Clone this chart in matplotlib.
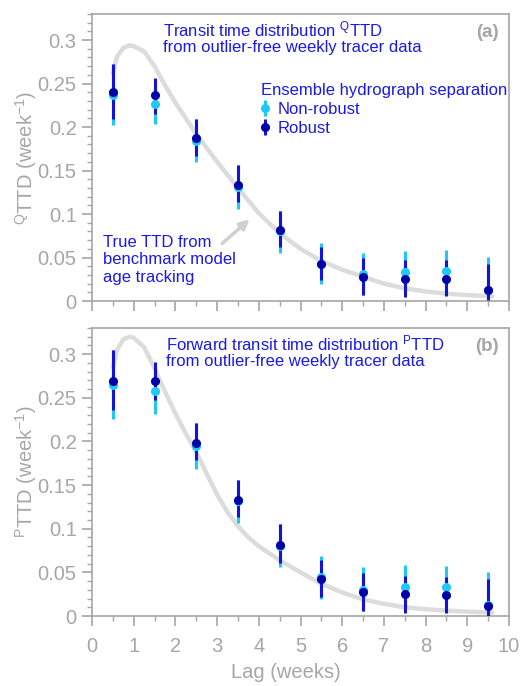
import numpy as np
import matplotlib
matplotlib.use("Agg")
import matplotlib.pyplot as plt
from matplotlib.ticker import MultipleLocator

plt.rcParams['font.family'] = ['Liberation Sans', 'DejaVu Sans']
plt.rcParams['mathtext.fontset'] = 'custom'
plt.rcParams['mathtext.rm'] = 'Liberation Sans'
plt.rcParams['mathtext.it'] = 'Liberation Sans:italic'

# ---- data ----
lag = [0.5, 1.5, 2.5, 3.5, 4.5, 5.5, 6.5, 7.5, 8.5, 9.5]

# panel (a): backward TTD
q_nonrob = [0.237, 0.227, 0.1845, 0.131, 0.0806, 0.043, 0.031, 0.0336, 0.0344, 0.013]
q_nonrob_lo = [0.202, 0.204, 0.160, 0.106, 0.055, 0.019, 0.007, 0.009, 0.009, 0.0]
q_nonrob_hi = [0.272, 0.250, 0.209, 0.156, 0.1035, 0.067, 0.055, 0.058, 0.059, 0.051]
q_rob = [0.240, 0.237, 0.1876, 0.133, 0.0814, 0.0424, 0.0279, 0.025, 0.0256, 0.0126]
q_rob_lo = [0.209, 0.215, 0.167, 0.114, 0.062, 0.024, 0.007, 0.005, 0.006, 0.001]
q_rob_hi = [0.272, 0.256, 0.209, 0.156, 0.104, 0.062, 0.049, 0.047, 0.047, 0.042]

q_true_x = [0.5, 0.6, 0.75, 0.9, 1.0, 1.25, 1.5, 1.75, 2.0, 2.25, 2.5, 2.75, 3.0,
            3.5, 4.0, 4.5, 5.0, 5.5, 6.0, 6.5, 7.0, 7.5, 8.0, 8.5, 9.0, 9.5, 9.6]
q_true = [0.262, 0.281, 0.291, 0.294, 0.293, 0.287, 0.270, 0.248, 0.228, 0.210,
          0.192, 0.176, 0.160, 0.130, 0.101, 0.078, 0.060, 0.046, 0.036, 0.028,
          0.020, 0.0145, 0.011, 0.0085, 0.0068, 0.0056, 0.0055]

# panel (b): forward TTD
p_nonrob = [0.265, 0.258, 0.195, 0.1316, 0.080, 0.0445, 0.030, 0.0338, 0.033, 0.0127]
p_nonrob_lo = [0.2256, 0.231, 0.169, 0.1066, 0.056, 0.0196, 0.006, 0.010, 0.010, 0.0]
p_nonrob_hi = [0.305, 0.285, 0.221, 0.156, 0.105, 0.069, 0.056, 0.058, 0.057, 0.050]
p_rob = [0.2697, 0.269, 0.1987, 0.1327, 0.081, 0.0426, 0.028, 0.0253, 0.0245, 0.012]
p_rob_lo = [0.236, 0.248, 0.179, 0.114, 0.061, 0.0215, 0.006, 0.004, 0.004, 0.0]
p_rob_hi = [0.305, 0.291, 0.221, 0.156, 0.105, 0.064, 0.049, 0.046, 0.045, 0.0426]

p_true_x = [0.5, 0.6, 0.75, 0.9, 1.0, 1.25, 1.5, 1.75, 2.0, 2.25, 2.5, 2.75, 3.0,
            3.25, 3.5, 3.75, 4.0, 4.5, 5.0, 5.5, 6.0, 6.5, 7.0, 7.5, 8.0, 8.5, 9.0, 9.5, 9.6]
p_true = [0.285, 0.305, 0.317, 0.320, 0.319, 0.308, 0.284, 0.257, 0.232, 0.209,
          0.188, 0.163, 0.139, 0.119, 0.103, 0.090, 0.080, 0.064, 0.050, 0.037, 0.027,
          0.019, 0.014, 0.010, 0.0078, 0.0062, 0.005, 0.0042, 0.004]

GREY = '#a6a6a6'
BLUE_TXT = '#1a1ae6'
CYAN = '#20c8f4'
DARK = '#0000a8'
DARK_BAR = '#1414d8'
CURVE = '#dcdcdc'


def draw_panel(ax, true_x, true_y, nr, nr_lo, nr_hi, rb, rb_lo, rb_hi):
    ax.plot(true_x, true_y, color=CURVE, lw=3.2, solid_capstyle='round', zorder=1)
    nr = np.array(nr); rb = np.array(rb)
    e1 = ax.errorbar(lag, nr, yerr=[nr - np.array(nr_lo), np.array(nr_hi) - nr],
                     fmt='o', ms=5.5, color=CYAN, ecolor=CYAN, elinewidth=2.2,
                     capsize=0, label='Non-robust')
    e2 = ax.errorbar(lag, rb, yerr=[rb - np.array(rb_lo), np.array(rb_hi) - rb],
                     fmt='o', ms=5.5, color=DARK, mec=DARK, ecolor=DARK_BAR,
                     elinewidth=2.2, capsize=0, label='Robust')
    e1.lines[0].set_zorder(4)
    e2.lines[0].set_zorder(5)
    for c in e1.lines[2]:
        c.set_zorder(2)
    for c in e2.lines[2]:
        c.set_zorder(3)

    ax.set_xlim(0, 10)
    ax.set_ylim(0, 0.33)
    ax.xaxis.set_major_locator(MultipleLocator(1))
    ax.xaxis.set_minor_locator(MultipleLocator(0.5))
    ax.yaxis.set_major_locator(MultipleLocator(0.05))
    ax.yaxis.set_minor_locator(MultipleLocator(0.01))
    ax.yaxis.set_major_formatter(plt.FuncFormatter(lambda v, p: ('%g' % round(v, 2))))
    ax.tick_params(which='major', direction='out', length=7, width=1.2, color=GREY,
                   labelcolor=GREY, labelsize=14.5, pad=4)
    ax.tick_params(axis='x', which='major', pad=8)
    ax.tick_params(which='minor', direction='out', length=3.5, width=1.0, color=GREY)
    for s in ax.spines.values():
        s.set_color(GREY)
        s.set_linewidth(1.2)
    return e1, e2


fig = plt.figure(figsize=(5.21, 6.86), dpi=100)
ax1 = fig.add_axes([0.1766, 0.5612, 0.8004, 0.4184])
ax2 = fig.add_axes([0.1766, 0.1020, 0.8004, 0.4198])

h1, h2 = draw_panel(ax1, q_true_x, q_true, q_nonrob, q_nonrob_lo, q_nonrob_hi,
                    q_rob, q_rob_lo, q_rob_hi)
draw_panel(ax2, p_true_x, p_true, p_nonrob, p_nonrob_lo, p_nonrob_hi,
           p_rob, p_rob_lo, p_rob_hi)

ax1.tick_params(axis='x', labelbottom=False)
ax1.set_ylabel(r'$^{\mathrm{Q}}$TTD (week$^{\mathrm{-1}}$)', color=GREY, fontsize=14.5)
ax2.set_ylabel(r'$^{\mathrm{P}}$TTD (week$^{\mathrm{-1}}$)', color=GREY, fontsize=14.5)
ax1.yaxis.set_label_coords(-0.127, 0.5)
ax2.yaxis.set_label_coords(-0.127, 0.5)
ax2.set_xlabel('Lag (weeks)', color=GREY, fontsize=14.5)
ax2.xaxis.set_label_coords(0.465, -0.163)

ax1.text(0.17, 0.98, 'Transit time distribution $^{\\mathrm{Q}}$TTD\nfrom outlier-free weekly tracer data',
         transform=ax1.transAxes, color=BLUE_TXT, fontsize=12, va='top', ha='left',
         linespacing=1.05)
ax2.text(0.178, 0.98, 'Forward transit time distribution $^{\\mathrm{P}}$TTD\nfrom outlier-free weekly tracer data',
         transform=ax2.transAxes, color=BLUE_TXT, fontsize=12, va='top', ha='left',
         linespacing=1.05)
ax1.text(0.975, 0.965, '(a)', transform=ax1.transAxes, color=GREY, fontsize=13.5,
         fontweight='bold', ha='right', va='top')
ax2.text(0.975, 0.965, '(b)', transform=ax2.transAxes, color=GREY, fontsize=13.5,
         fontweight='bold', ha='right', va='top')

ax1.text(0.026, 0.143, 'True TTD from\nbenchmark model\nage tracking', color=BLUE_TXT,
         transform=ax1.transAxes, fontsize=12, ha='left', va='center', linespacing=1.2)
ax1.annotate('', xy=(3.83, 0.096), xytext=(3.07, 0.064),
             arrowprops=dict(arrowstyle='-|>', color='#d0d0d0', lw=2.5,
                             mutation_scale=14))

leg = ax1.legend(handles=[h1, h2], title='Ensemble hydrograph separation',
                 loc='upper left', bbox_to_anchor=(0.385, 0.79), frameon=False,
                 fontsize=12, title_fontsize=12, labelcolor=BLUE_TXT,
                 handlelength=0.5, handletextpad=0.5, borderpad=0, labelspacing=0.25,
                 alignment='left')
leg.get_title().set_color(BLUE_TXT)

fig.savefig('out.png', dpi=100)
